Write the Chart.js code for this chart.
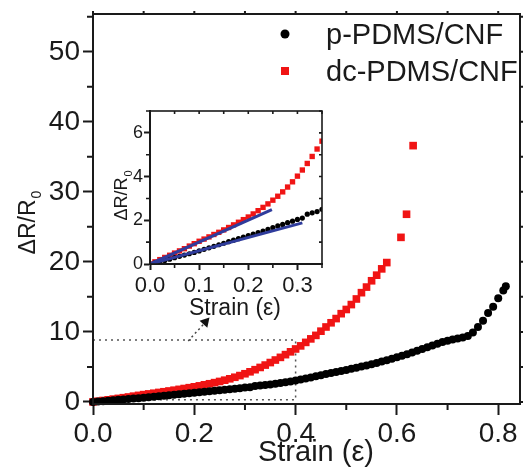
<!DOCTYPE html>
<html>
<head>
<meta charset="utf-8">
<script src="https://cdn.jsdelivr.net/npm/chart.js@4.4.1/dist/chart.umd.min.js"></script>
<style>
    html, body { margin: 0; padding: 0; background: #fff; }
    #wrap { position: relative; width: 526px; height: 468px; }
    #mainChart { position: absolute; left: 0; top: 0; }
    #insetChart { position: absolute; left: 100px; top: 100px; }
</style>
</head>
<body>
<div id="wrap">
    <canvas id="mainChart" width="526" height="468"></canvas>
    <canvas id="insetChart" width="240" height="220"></canvas>
</div>
<script>
// p-PDMS/CNF : strain (e) and dR/R0
const strainP = [0.00,0.01,0.02,0.03,0.04,0.05,0.06,0.07,0.08,0.09,
    0.10,0.11,0.12,0.13,0.14,0.15,0.16,0.17,0.18,0.19,
    0.20,0.21,0.22,0.23,0.24,0.25,0.26,0.27,0.28,0.29,
    0.30,0.31,0.32,0.33,0.34,0.35,0.36,0.37,0.38,0.39,
    0.40,0.41,0.42,0.43,0.44,0.45,0.46,0.47,0.48,0.49,
    0.50,0.51,0.52,0.53,0.54,0.55,0.56,0.57,0.58,0.59,
    0.60,0.61,0.62,0.63,0.64,0.65,0.66,0.67,0.68,0.69,
    0.70,0.71,0.72,0.73,0.74,0.75,0.76,0.77,0.78,0.79,
    0.80,0.81,0.815];
const respP = [0.00,0.05,0.10,0.16,0.22,0.29,0.35,0.41,0.47,0.53,
    0.60,0.67,0.74,0.81,0.88,0.95,1.02,1.09,1.16,1.23,
    1.30,1.37,1.44,1.51,1.59,1.67,1.74,1.81,1.89,1.96,
    2.04,2.10,2.28,2.34,2.40,2.50,2.60,2.70,2.80,2.92,
    3.05,3.20,3.35,3.50,3.66,3.82,3.98,4.13,4.28,4.42,
    4.56,4.72,4.88,5.04,5.20,5.38,5.56,5.76,5.96,6.16,
    6.38,6.60,6.82,7.05,7.30,7.55,7.80,8.05,8.30,8.55,
    8.75,8.90,9.05,9.20,9.40,9.90,10.7,11.6,12.7,13.6,
    14.8,15.9,16.5];

// dc-PDMS/CNF
const strainDc = [0.00,0.01,0.02,0.03,0.04,0.05,0.06,0.07,0.08,0.09,
    0.10,0.11,0.12,0.13,0.14,0.15,0.16,0.17,0.18,0.19,
    0.20,0.21,0.22,0.23,0.24,0.25,0.26,0.27,0.28,0.29,
    0.30,0.31,0.32,0.33,0.34,0.35,0.36,0.37,0.38,0.39,
    0.40,0.41,0.42,0.43,0.44,0.45,0.46,0.47,0.48,0.49,
    0.50,0.51,0.52,0.53,0.54,0.55,0.56,0.57,0.58,
    0.608,0.619,0.632];
const respDc = [0.00,0.10,0.20,0.30,0.40,0.50,0.60,0.70,0.82,0.93,
    1.04,1.14,1.24,1.35,1.45,1.56,1.67,1.79,1.91,2.03,
    2.15,2.29,2.44,2.59,2.75,2.92,3.10,3.30,3.52,3.76,
    4.02,4.30,4.60,4.92,5.26,5.62,5.98,6.36,6.75,7.15,
    7.56,8.00,8.50,9.00,9.50,10.1,10.7,11.3,11.9,12.6,
    13.2,13.9,14.7,15.6,16.4,17.3,18.1,19.0,19.9,
    23.5,26.8,36.6];

// linear fits shown in the inset
const fitDcX = [0, 0.248];
const fitDcY = [0, 2.49];
const fitPX = [0, 0.31];
const fitPY = [0, 1.88];

// dotted zoom box and arrow on the main plot
const boxX = [0.0, 0.4, 0.4, 0.0];
const boxY = [8.83, 8.83, 0.3, 0.3];
const arrowX = [0.188, 0.222];
const arrowY = [8.7, 11.4];

const FONT = "'Liberation Sans', Arial, sans-serif";
const INK = '#1a1a1a';

const pts = (xs, ys) => xs.map((x, i) => ({ x: x, y: ys[i] }));

function drawLabel(ctx, t) {
    ctx.save();
    ctx.translate(t.x, t.y);
    if (t.rot) ctx.rotate(t.rot);
    ctx.fillStyle = INK;
    ctx.textBaseline = 'alphabetic';
    ctx.textAlign = 'left';
    ctx.font = t.size + 'px ' + FONT;
    const w1 = ctx.measureText(t.text).width;
    let w2 = 0;
    if (t.sub) {
        ctx.font = Math.round(t.size * 0.62) + 'px ' + FONT;
        w2 = ctx.measureText(t.sub).width;
    }
    const x0 = -(w1 + w2) / 2;
    ctx.font = t.size + 'px ' + FONT;
    ctx.fillText(t.text, x0, 0);
    if (t.sub) {
        ctx.font = Math.round(t.size * 0.62) + 'px ' + FONT;
        ctx.fillText(t.sub, x0 + w1 + 1, t.size * 0.28);
    }
    ctx.restore();
}

// frame, minor ticks, ticks on the top/right edges, titles and legend
const decorPlugin = {
    id: 'decor',
    beforeDraw(chart, args, o) {
        const a = chart.chartArea;
        chart.ctx.save();
        chart.ctx.fillStyle = '#fff';
        chart.ctx.fillRect(a.left, a.top, a.right - a.left, a.bottom - a.top);
        chart.ctx.restore();
    },
    afterDraw(chart, args, o) {
        const ctx = chart.ctx, a = chart.chartArea;
        const xs = chart.scales.x, ys = chart.scales.y;
        ctx.save();
        ctx.strokeStyle = INK;
        ctx.lineWidth = o.frameWidth;
        ctx.strokeRect(a.left, a.top, a.right - a.left, a.bottom - a.top);
        ctx.beginPath();
        for (let i = 0; i * o.xMinor <= xs.max + 1e-9; i++) {
            const px = xs.getPixelForValue(i * o.xMinor);
            if (i % 2) {
                ctx.moveTo(px, a.bottom);
                ctx.lineTo(px, a.bottom + o.minorLen);
            }
            ctx.moveTo(px, a.top);
            ctx.lineTo(px, a.top + o.edgeLen);
        }
        for (let i = 0; i * o.yMinor <= ys.max + 1e-9; i++) {
            const py = ys.getPixelForValue(i * o.yMinor);
            if (i % 2) {
                ctx.moveTo(a.left, py);
                ctx.lineTo(a.left - o.minorLen, py);
            }
            ctx.moveTo(a.right, py);
            ctx.lineTo(a.right - o.edgeLen, py);
        }
        ctx.stroke();
        ctx.restore();

        (o.titles || []).forEach((t) => drawLabel(ctx, t));

        (o.legend || []).forEach((item) => {
            ctx.save();
            ctx.fillStyle = item.color;
            if (item.marker === 'circle') {
                ctx.beginPath();
                ctx.arc(item.mx, item.y, 4.5, 0, Math.PI * 2);
                ctx.fill();
            } else {
                ctx.fillRect(item.mx - 4, item.y - 4, 8, 8);
            }
            ctx.fillStyle = INK;
            ctx.font = item.size + 'px ' + FONT;
            ctx.textBaseline = 'alphabetic';
            ctx.fillText(item.label, item.tx, item.y + item.size * 0.358);
            ctx.restore();
        });
    }
};

function axis(min, max, step, size, tickLen, pad, fmt, fixed, isX) {
    return {
        type: 'linear',
        min: min,
        max: max,
        afterFit: (s) => {
            // fixed axis band; the layout padding alone sets the plot edges
            if (isX) {
                s.height = fixed;
                s.paddingLeft = 0;
                s.paddingRight = 0;
            } else {
                s.width = fixed;
                s.paddingTop = 0;
                s.paddingBottom = 0;
            }
        },
        grid: { display: true, drawOnChartArea: false, drawTicks: true, tickLength: tickLen, tickColor: INK, tickWidth: 2 },
        border: { display: true, color: INK, width: 2 },
        ticks: {
            stepSize: step,
            includeBounds: false,
            autoSkip: false,
            maxRotation: 0,
            padding: pad,
            color: INK,
            font: { family: FONT, size: size, lineHeight: 1 },
            callback: fmt
        }
    };
}

const mainConfig = {
    type: 'scatter',
    data: {
        datasets: [
            {
                label: 'p-PDMS/CNF',
                data: pts(strainP, respP),
                pointStyle: 'circle',
                pointRadius: 4,
                pointBorderWidth: 0,
                backgroundColor: '#000',
                clip: false
            },
            {
                label: 'dc-PDMS/CNF',
                data: pts(strainDc, respDc),
                pointStyle: 'rect',
                pointRadius: 5.4,
                pointBorderWidth: 0,
                backgroundColor: '#f01414',
                clip: false
            },
            {
                label: 'arrow',
                data: pts(arrowX, arrowY),
                showLine: true,
                borderColor: '#444',
                borderWidth: 1.5,
                borderDash: [2, 3],
                pointRadius: [0, 6],
                pointStyle: 'triangle',
                rotation: 42,
                pointBorderWidth: 0,
                backgroundColor: '#111'
            },
            {
                label: 'box',
                data: pts(boxX, boxY),
                showLine: true,
                borderColor: '#555',
                borderWidth: 1.5,
                borderDash: [2, 4],
                pointRadius: 0
            }
        ]
    },
    options: {
        responsive: false,
        devicePixelRatio: 1,
        animation: false,
        layout: { padding: { top: 14, right: 2, left: 0, bottom: 0 } },
        scales: {
            x: axis(0, 0.843, 0.2, 28, 11, 5, (v) => v.toFixed(1), 64, true),
            y: axis(-0.3, 55.4, 10, 28, 10, 3, (v) => String(v), 93, false)
        },
        plugins: {
            legend: { display: false },
            tooltip: { enabled: false },
            decor: {
                frameWidth: 2,
                xMinor: 0.1,
                yMinor: 5,
                minorLen: 6,
                edgeLen: -3,
                titles: [
                    { text: 'Strain (ε)', x: 316, y: 461, size: 29 },
                    { text: 'ΔR/R', sub: '0', x: 35, y: 223, size: 23, rot: -Math.PI / 2 }
                ],
                legend: [
                    { marker: 'circle', color: '#000', label: 'p-PDMS/CNF', mx: 285, tx: 326, y: 34, size: 29 },
                    { marker: 'rect', color: '#f01414', label: 'dc-PDMS/CNF', mx: 285, tx: 326, y: 71, size: 29 }
                ]
            }
        }
    },
    plugins: [decorPlugin]
};

const upTo = (xs, ys, lim) => pts(xs, ys).filter((p) => p.x <= lim);

const insetConfig = {
    type: 'scatter',
    data: {
        datasets: [
            {
                label: 'fit dc',
                data: pts(fitDcX, fitDcY),
                showLine: true,
                borderColor: '#2f3c9c',
                borderWidth: 3,
                pointRadius: 0
            },
            {
                label: 'fit p',
                data: pts(fitPX, fitPY),
                showLine: true,
                borderColor: '#2f3c9c',
                borderWidth: 3,
                pointRadius: 0
            },
            {
                label: 'p-PDMS/CNF',
                data: upTo(strainP, respP, 0.352),
                pointStyle: 'circle',
                pointRadius: 2.6,
                pointBorderWidth: 0,
                backgroundColor: '#000'
            },
            {
                label: 'dc-PDMS/CNF',
                data: upTo(strainDc, respDc, 0.352),
                pointStyle: 'rect',
                pointRadius: 3.8,
                pointBorderWidth: 0,
                backgroundColor: '#f01414'
            }
        ]
    },
    options: {
        responsive: false,
        devicePixelRatio: 1,
        animation: false,
        layout: { padding: { top: 11, right: 18, left: 0, bottom: 0 } },
        scales: {
            x: axis(0, 0.35, 0.1, 22, 6, 5, (v) => v.toFixed(1), 56, true),
            y: axis(0, 7, 2, 18, 6, 1, (v) => String(v), 50, false)
        },
        plugins: {
            legend: { display: false },
            tooltip: { enabled: false },
            decor: {
                frameWidth: 1.6,
                xMinor: 0.05,
                yMinor: 1,
                minorLen: 4,
                edgeLen: 3,
                titles: [
                    { text: 'Strain (ε)', x: 135, y: 215, size: 23 },
                    { text: 'ΔR/R', sub: '0', x: 27, y: 96, size: 18, rot: -Math.PI / 2 }
                ]
            }
        }
    },
    plugins: [decorPlugin]
};

new Chart(document.getElementById('mainChart'), mainConfig);
new Chart(document.getElementById('insetChart'), insetConfig);
</script>
</body>
</html>
